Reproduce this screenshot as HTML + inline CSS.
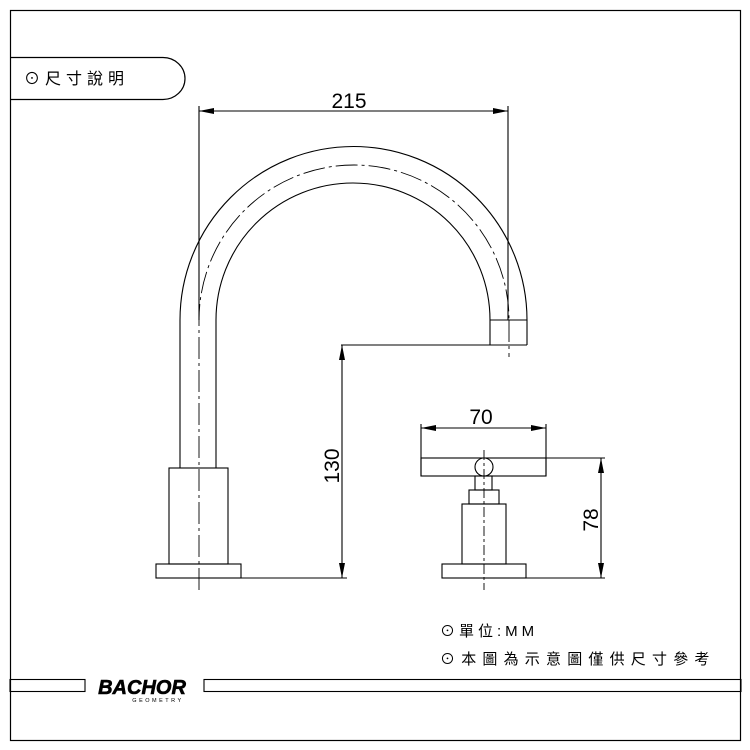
<!DOCTYPE html>
<html><head><meta charset="utf-8"><style>
html,body{margin:0;padding:0;background:#fff;}
svg{display:block;}
text{font-family:"Liberation Sans","Noto Sans CJK TC",sans-serif;}
</style></head><body>
<svg width="750" height="750" viewBox="0 0 750 750" xmlns="http://www.w3.org/2000/svg">
<rect x="10.5" y="10.5" width="730" height="730" fill="none" stroke="#000" stroke-width="1.2"/>
<path d="M10 57.5 H163 A22 21 0 0 1 163 99.5 H10" fill="none" stroke="#000" stroke-width="1.2"/>
<text x="24" y="84" font-size="16" letter-spacing="5">⊙尺寸說明</text>
<g fill="none" stroke="#000" stroke-width="1.1">
<path d="M180 468 V320 A173.5 173.5 0 0 1 527 320 V345"/>
<path d="M216 468 V320 A137 137 0 0 1 490 320 V345"/>
<line x1="490" y1="320" x2="527" y2="320"/>
<line x1="341" y1="345" x2="527" y2="345"/>
<path d="M199 590 V320 A155 155 0 0 1 509 320" stroke-dasharray="22,4,3,4" stroke-width="0.9"/>
<line x1="509" y1="320" x2="509" y2="357" stroke-dasharray="22,4,3,4" stroke-width="0.9"/>
<rect x="169" y="468" width="59" height="96"/>
<rect x="156" y="564" width="85" height="14"/>
<line x1="241" y1="578" x2="347" y2="578"/>
<line x1="199" y1="106" x2="199" y2="320"/>
<line x1="508" y1="106" x2="508" y2="320"/>
<line x1="199" y1="111" x2="508" y2="111"/>
<line x1="342" y1="345" x2="342" y2="578"/>
<line x1="421" y1="424" x2="421" y2="476"/>
<line x1="546" y1="424" x2="546" y2="476"/>
<line x1="421" y1="428" x2="546" y2="428"/>
<rect x="421" y="458" width="125" height="18"/>
<line x1="546" y1="458" x2="605" y2="458"/>
<circle cx="484" cy="467" r="9" fill="#fff"/>
<rect x="475" y="476" width="17" height="14"/>
<rect x="469" y="490" width="30" height="14"/>
<rect x="462" y="504" width="44" height="60"/>
<rect x="442" y="564" width="84" height="14"/>
<line x1="526" y1="578" x2="605" y2="578"/>
<line x1="601" y1="458" x2="601" y2="578"/>
<line x1="484" y1="450" x2="484" y2="590" stroke-dasharray="10,3,3,3" stroke-width="0.9"/>
<rect x="10" y="679.5" width="75" height="12"/>
<rect x="204" y="679.5" width="537" height="12"/>
</g>
<g fill="#000">
<path d="M199 111 l15 -3 v6z"/><path d="M508 111 l-15 -3 v6z"/>
<path d="M342 345 l-3 15 h6z"/><path d="M342 578 l-3 -15 h6z"/>
<path d="M421 428 l15 -3 v6z"/><path d="M546 428 l-15 -3 v6z"/>
<path d="M601 458 l-3 15 h6z"/><path d="M601 578 l-3 -15 h6z"/>
</g>
<text x="349" y="108" font-size="21" text-anchor="middle" font-family="Liberation Serif" transform="scale(1.0,1)">215</text>
<text x="481" y="424" font-size="21" text-anchor="middle" font-family="Liberation Serif">70</text>
<text transform="translate(339,466) rotate(-90)" font-size="21" text-anchor="middle" font-family="Liberation Serif">130</text>
<text transform="translate(598,520) rotate(-90)" font-size="21" text-anchor="middle" font-family="Liberation Serif">78</text>
<text x="440" y="636" font-size="15" letter-spacing="4">⊙單位:MM</text>
<text x="440" y="664" font-size="15" letter-spacing="6.2">⊙本圖為示意圖僅供尺寸參考</text>
<text x="142" y="694" font-size="20" font-weight="bold" font-style="italic" text-anchor="middle" stroke="#000" stroke-width="0.6">BACHOR</text>
<text x="158" y="702" font-size="5.5" text-anchor="middle" letter-spacing="2.5">GEOMETRY</text>
</svg>
</body></html>
